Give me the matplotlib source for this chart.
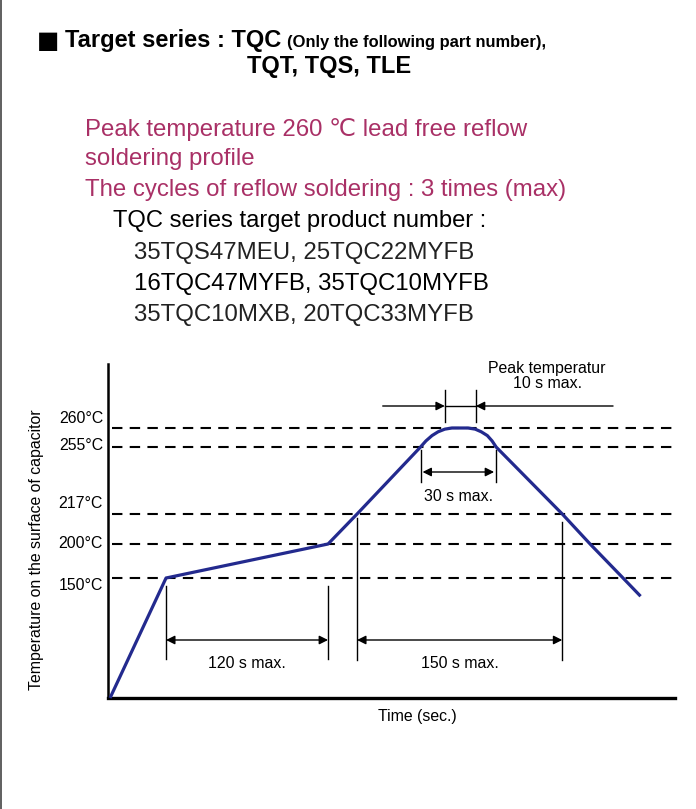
import numpy as np
import matplotlib
matplotlib.use("Agg")
import matplotlib.pyplot as plt

plt.rcParams['font.family'] = ['Liberation Sans', 'DejaVu Sans']

# ---- data (schematic reflow profile) ----
time_s = [0, 41.5, 161.5, 183, 230, 234, 238.5, 243, 248, 253.3, 265.2, 270.5, 275, 279.5, 283, 286,
          335, 355.6, 380, 393]
temp_c = [25, 150, 200, 217, 255, 256.6, 258.0, 259.0, 259.7, 260, 260, 259.7, 259.0, 258.0, 256.6, 255,
          217, 200, 150, 131]
ref_temps = [260, 255, 217, 200, 150]
ref_labels = ["260°C", "255°C", "217°C", "200°C", "150°C"]
preheat = (41.5, 161.5)      # 120 s max
liquidus = (183, 335)        # 150 s max
above255 = (230, 286)        # 30 s max
peak10 = (248, 271)          # peak 10 s max

W, H = 696, 809
fig = plt.figure(figsize=(W/100, H/100), dpi=100)
def fx(x): return x / W
def fy(y): return 1 - y / H

# axes placement (pixels)
L, R, T, B = 108, 675, 364, 698
ax = fig.add_axes([fx(L), fy(B), (R-L)/W, (B-T)/H])

# schematic (non-linear) temperature scale
anch_t = np.array([-200, 25, 150, 200, 217, 255, 260, 280, 500])
anch_p = np.array([-225*0.96, 0, 120, 154, 184, 251, 270, 334, 334 + 220*3.2])
def fwd(v): return np.interp(v, anch_t, anch_p)
def inv(p): return np.interp(p, anch_p, anch_t)
ax.set_yscale('function', functions=(fwd, inv))
ax.set_ylim(25, 280)
ax.set_xlim(-1.5, 418.5)

for s in ['top', 'right']:
    ax.spines[s].set_visible(False)
ax.spines['left'].set_linewidth(1.8)
ax.spines['bottom'].set_linewidth(2.4)
ax.set_xticks([]); ax.set_yticks([])
ax.minorticks_off()
ax.yaxis.set_minor_locator(matplotlib.ticker.NullLocator())

CH = 11.4  # chart font size

# dashed reference lines
for tc in ref_temps:
    ax.plot([1.5, 418.5], [tc, tc], color='black', lw=1.5, ls=(0, (5, 3.5)), zorder=1)

ax.plot(time_s, temp_c, color='#232a8e', lw=2.3, zorder=3, solid_capstyle='butt',
        solid_joinstyle='round', clip_on=False)

# temperature labels
lab_off = [9, 1, 10, 0, -8]
for tc, lab, off in zip(ref_temps, ref_labels, lab_off):
    ax.annotate(lab, xy=(0, tc), xycoords=ax.get_yaxis_transform(),
                xytext=(-5, off), textcoords='offset pixels',
                ha='right', va='center', fontsize=CH)

tr = ax.get_xaxis_transform()
def f(py): return (B - py) / (B - T)

def vline(x, y0, y1):
    ax.plot([x, x], [f(y0), f(y1)], color='black', lw=1.0, transform=tr, clip_on=False)

def dim(x0, x1, y):
    ax.annotate('', xy=(x1, f(y)), xytext=(x0, f(y)), xycoords=tr, textcoords=tr,
                arrowprops=dict(arrowstyle='<|-|>', color='black', lw=1.0,
                                mutation_scale=13, shrinkA=0, shrinkB=0))

# 120 s
vline(preheat[0], 586, 659); vline(preheat[1], 586, 659)
dim(preheat[0], preheat[1], 640)
ax.text(np.mean(preheat), f(664), "120 s max.", transform=tr, ha='center', va='center', fontsize=CH)
# 150 s
vline(liquidus[0], 518, 660); vline(liquidus[1], 522, 660)
dim(liquidus[0], liquidus[1], 640)
ax.text(np.mean(liquidus), f(664), "150 s max.", transform=tr, ha='center', va='center', fontsize=CH)
# 30 s
vline(above255[0], 450, 482); vline(above255[1], 450, 482)
dim(above255[0] + 1.5, above255[1] - 1.5, 472)
ax.text(np.mean(above255), f(497), "30 s max.", transform=tr, ha='center', va='center', fontsize=CH)
# 10 s peak
vline(peak10[0], 390, 422); vline(peak10[1], 390, 422)
ax.plot([peak10[0], peak10[1]], [f(406), f(406)], color='black', lw=1.0, transform=tr, clip_on=False)
ax.annotate('', xy=(peak10[0], f(406)), xytext=(202, f(406)), xycoords=tr, textcoords=tr,
            arrowprops=dict(arrowstyle='-|>', color='black', lw=1.0, mutation_scale=13, shrinkA=0, shrinkB=0))
ax.annotate('', xy=(peak10[1], f(406)), xytext=(372.6, f(406)), xycoords=tr, textcoords=tr,
            arrowprops=dict(arrowstyle='-|>', color='black', lw=1.0, mutation_scale=13, shrinkA=0, shrinkB=0))
ax.text(323.7, f(376), "Peak temperatur\n10 s max.", transform=tr, ha='center', va='center',
        fontsize=CH, linespacing=1.05)

# axis titles
fig.text(fx(417), fy(716), "Time (sec.)", ha='center', va='center', fontsize=CH)
fig.text(fx(37), fy(550), "Temperature on the surface of capacitor", ha='center', va='center',
         rotation=90, fontsize=CH)

# header texts
fig.text(fx(37), fy(41), "■", ha='left', va='center', fontsize=17, family=['DejaVu Sans'])
fig.text(fx(65), fy(40), "Target series : TQC", ha='left', va='center', fontsize=17, fontweight='bold')
fig.text(fx(287), fy(43), "(Only the following part number),", ha='left', va='center', fontsize=11.9, fontweight='bold')
fig.text(fx(247), fy(67), "TQT, TQS, TLE", ha='left', va='center', fontsize=17, fontweight='bold')

mag = '#a93066'
FS = 17.3
fig.text(fx(85), fy(130), "Peak temperature 260 ℃ lead free reflow", ha='left', va='center', fontsize=FS, color=mag)
fig.text(fx(85), fy(159), "soldering profile", ha='left', va='center', fontsize=FS, color=mag)
fig.text(fx(85), fy(190), "The cycles of reflow soldering : 3 times (max)", ha='left', va='center', fontsize=FS, color=mag)
fig.text(fx(113), fy(221), "TQC series target product number :", ha='left', va='center', fontsize=17.1, color='black')
fig.text(fx(134), fy(253), "35TQS47MEU, 25TQC22MYFB", ha='left', va='center', fontsize=FS, color='#222222')
fig.text(fx(134), fy(284), "16TQC47MYFB, 35TQC10MYFB", ha='left', va='center', fontsize=FS, color='black')
fig.text(fx(134), fy(315), "35TQC10MXB, 20TQC33MYFB", ha='left', va='center', fontsize=FS, color='#222222')

# left page border
fig.add_artist(matplotlib.lines.Line2D([fx(1), fx(1)], [0, 1], color='#444444', lw=1.2))

fig.savefig("out.png", dpi=100)
